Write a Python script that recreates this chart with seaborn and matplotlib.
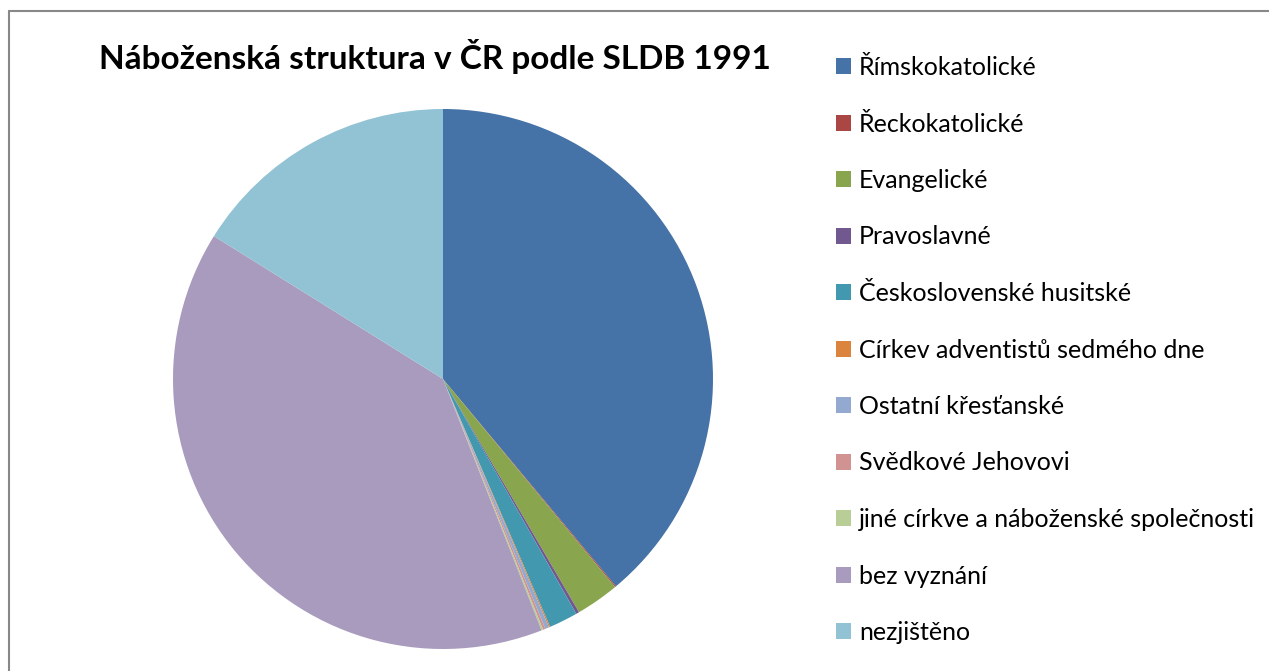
import matplotlib
matplotlib.use("Agg")
import matplotlib.pyplot as plt
from matplotlib.patches import Patch
from matplotlib.lines import Line2D
import seaborn as sns

# SLDB 1991, number of people (thousands)
categories = ["Římskokatolické", "Řeckokatolické", "Evangelické", "Pravoslavné",
              "Československé husitské", "Církev adventistů sedmého dne",
              "Ostatní křesťanské", "Svědkové Jehovovi",
              "jiné církve a náboženské společnosti", "bez vyznání", "nezjištěno"]
values = [4021.4, 7.0, 268.0, 19.4, 178.0, 7.7, 24.0, 14.6, 10.0, 4112.9, 1665.6]
colors = ["#4572A7", "#AA4643", "#89A54E", "#71588F", "#4198AF", "#DB843D",
          "#93A9CF", "#D19392", "#B9CD96", "#A99BBD", "#92C3D4"]
title = "Náboženská struktura v ČR podle SLDB 1991"

sns.set_theme(style="white")
plt.rcParams["font.family"] = ["Lato", "DejaVu Sans"]
plt.rcParams["text.color"] = "black"

W, H = 1269, 671
fig = plt.figure(figsize=(W / 100, H / 100), dpi=100)
fig.patch.set_facecolor("white")

cx, cy, r = 443, 379, 270
ax = fig.add_axes([(cx - r) / W, (H - cy - r) / H, 2 * r / W, 2 * r / H])
pal = sns.color_palette(colors)
ax.pie(values, colors=pal, startangle=90, counterclock=False,
       wedgeprops=dict(linewidth=0))
ax.set_xlim(-1, 1)
ax.set_ylim(-1, 1)
ax.set_aspect("equal")
ax.axis("off")

fig.text(435 / W, 1 - 56 / H, title, ha="center", va="center",
         fontsize=24, fontweight="bold", color="black")

handles = [Patch(facecolor=c, edgecolor="none") for c in pal]
leg = fig.legend(handles, categories, loc="upper left",
                 bbox_to_anchor=(826 / W, 1 - 46 / H), frameon=False,
                 fontsize=18, handlelength=0.6, handleheight=0.6,
                 handletextpad=0.32, labelspacing=1.34, borderaxespad=0)
for t in leg.get_texts():
    t.set_color("black")

# chart area border (top and left visible)
fig.add_artist(Line2D([8.5 / W, 8.5 / W], [0, 1 - 10.5 / H], color="#888888",
                      lw=1.5, transform=fig.transFigure))
fig.add_artist(Line2D([8.5 / W, 1], [1 - 10.5 / H, 1 - 10.5 / H], color="#888888",
                      lw=1.5, transform=fig.transFigure))

fig.savefig("out.png", dpi=100)
